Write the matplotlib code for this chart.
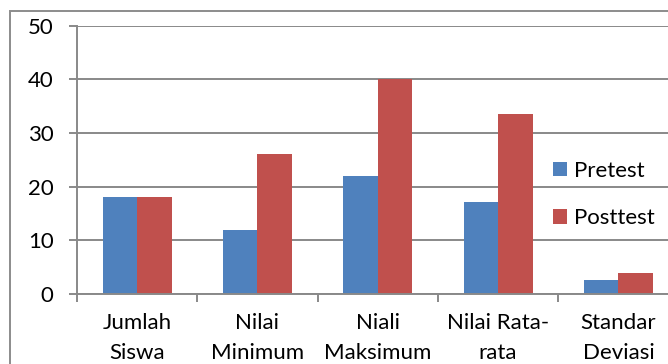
import matplotlib
matplotlib.use("Agg")
import matplotlib.pyplot as plt
from matplotlib.patches import Rectangle, Patch
import numpy as np

categories = ["Jumlah\nSiswa", "Nilai\nMinimum", "Niali\nMaksimum", "Nilai Rata-\nrata", "Standar\nDeviasi"]
pretest = [18, 12, 22, 17.2, 2.6]
posttest = [18, 26, 40, 33.6, 3.85]
y_ticks = [0, 10, 20, 30, 40, 50]
series_names = ["Pretest", "Posttest"]

BLUE = "#4F81BD"
RED = "#C0504D"
GRID = "#898989"

plt.rcParams["font.family"] = ["Lato", "DejaVu Sans"]
FS = 16

W, H = 668, 364
fig = plt.figure(figsize=(W / 100, H / 100), dpi=100)

# plot area in pixel units (it runs past the right edge of the canvas)
left_px, right_px, top_px, zero_px = 77, 678.6, 25.5, 294
ax = fig.add_axes([left_px / W, 1 - zero_px / H,
                   (right_px - left_px) / W, (zero_px - top_px) / H])

x = np.arange(len(categories)) + 0.5
bw = 0.286
ax.bar(x - bw / 2, pretest, width=bw, color=BLUE, zorder=3, linewidth=0)
ax.bar(x + bw / 2, posttest, width=bw, color=RED, zorder=3, linewidth=0)

ax.set_xlim(0, len(categories))
ax.set_ylim(0, 50)
ax.set_yticks(y_ticks)
ax.yaxis.grid(True, color=GRID, linewidth=1.4, zorder=1)
ax.set_axisbelow(True)

ax.set_xticks(x)
ax.set_xticklabels(categories, fontsize=FS, linespacing=1.62)
ax.set_xticks(np.arange(len(categories) + 1), minor=True)
ax.tick_params(axis="x", which="major", length=0, pad=14)
ax.tick_params(axis="x", which="minor", length=5.8, width=1.4, color=GRID, direction="out")
ax.tick_params(axis="y", length=5.8, width=1.4, color=GRID, pad=11, labelsize=FS)

for side in ("top", "right"):
    ax.spines[side].set_visible(False)
for side in ("left", "bottom"):
    ax.spines[side].set_color(GRID)
    ax.spines[side].set_linewidth(1.4)
    ax.spines[side].set_zorder(4)

handles = [Patch(facecolor=BLUE, edgecolor="none"), Patch(facecolor=RED, edgecolor="none")]
ax.legend(handles, series_names, loc="upper left", frameon=False, fontsize=FS,
          bbox_to_anchor=(553 / W, 1 - 161 / H), bbox_transform=fig.transFigure,
          borderpad=0, borderaxespad=0, handlelength=0.63, handleheight=0.63,
          handletextpad=0.32, labelspacing=1.22)

# chart frame
fig.add_artist(Rectangle((9.5 / W, -0.1), 1.2, 1.1 - 11.5 / H,
                         transform=fig.transFigure, fill=False,
                         edgecolor="#8C8C8C", linewidth=1.4, clip_on=False))

fig.savefig("out.png", dpi=100)
